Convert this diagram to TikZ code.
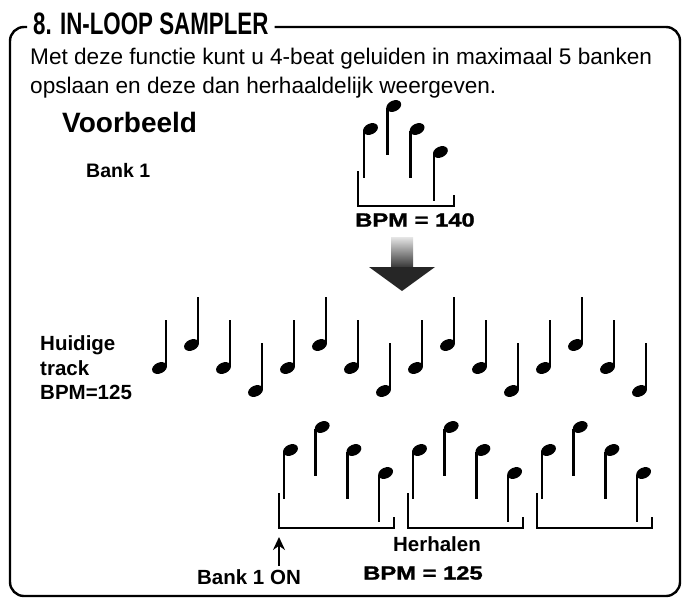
\documentclass[tikz,border=0pt]{standalone}
\usepackage{fontspec}
\setmainfont{Liberation Sans}
\newfontfamily\titlefont{Liberation Sans Bold}[FakeStretch=0.72]
\newfontfamily\heavyfont{Liberation Sans Bold}[FakeBold=1.5,FakeStretch=1.25]
\usetikzlibrary{arrows.meta}

\tikzset{
  stemline/.style={line width=2.6pt},
  bracketline/.style={line width=2pt},
  frameline/.style={line width=2.4pt, rounded corners=14pt},
  lbl/.style={font=\bfseries\fontsize{20.5}{24.5}\selectfont, inner sep=0pt},
  bpmlbl/.style={font=\heavyfont\fontsize{19}{22}\selectfont, inner sep=0pt},
  onarrow/.style={line width=2.4pt, -{Stealth[length=13pt,width=12pt]}},
}

% quarter note, head below left of the stem
\newcommand{\upnote}[2]{%
  \draw[stemline] (#1,#2) -- (#1,#2+46);
  \fill[rotate around={25:(#1-6.5,#2+48)}] (#1-6.5,#2+48) ellipse [x radius=7.8, y radius=5.4];
}
% hanging note, head above right of the stem
\newcommand{\hangnote}[2]{%
  \draw[stemline] (#1,#2-2) -- (#1,#2+45);
  \fill[rotate around={25:(#1+6.5,#2-4)}] (#1+6.5,#2-4) ellipse [x radius=7.8, y radius=5.4];
}

\begin{document}
\begin{tikzpicture}[x=1pt,y=-1pt]
  \useasboundingbox (0,0) rectangle (683,598);

  % title and frame
  \node[font=\titlefont\fontsize{31}{33}\selectfont, inner xsep=6pt, inner ysep=0pt, anchor=base west] (title) at (27,34) {8. IN-LOOP SAMPLER};
  \coordinate (topline) at (0,27);
  \draw[frameline] (title.east |- topline) -- (680,27) -- (680,596) -- (10,596) -- (10,27) -- (title.west |- topline);

  \node[font=\fontsize{22.6}{29}\selectfont, inner sep=0pt, anchor=base west, align=left] (intro) at (30,93)
    {Met deze functie kunt u 4-beat geluiden in maximaal 5 banken\\opslaan en deze dan herhaaldelijk weergeven.};

  \node[font=\bfseries\fontsize{28}{30}\selectfont, inner sep=0pt, anchor=base west] (example) at (62,132) {Voorbeeld};
  \node[lbl, font=\bfseries\fontsize{19.5}{22}\selectfont, anchor=base west] (bankone) at (86,177) {Bank 1};

  % bank 1
  \foreach \top [count=\i from 0] in {133,110,133,156}
    \hangnote{364+23.3*\i}{\top};
  \draw[bracketline] (358,171) -- (358,206) -- (454,206) -- (454,195);
  \node[bpmlbl] (bpmbank) at (415,220) {BPM = 140};

  % arrow
  \shade[top color=gray!20, bottom color=black!80] (391,237) rectangle (413,268);
  \fill[black!85] (369,267) -- (435,267) -- (402,291) -- cycle;

  % current track
  \node[lbl, anchor=west, align=left] (curtrack) at (40,368) {Huidige\\track\\BPM=125};
  \foreach \top [count=\i from 0] in {320,297,320,343,320,297,320,343,320,297,320,343,320,297,320,343}
    \upnote{166+32*\i}{\top};

  % repeated bank
  \foreach \gx in {284,413,542} {
    \foreach \top [count=\i from 0] in {454,431,454,477}
      \hangnote{\gx+31.7*\i}{\top};
    \draw[bracketline] (\gx-5,493) -- (\gx-5,528) -- (\gx+110,528) -- (\gx+110,517);
  }

  \node[lbl] (repeat) at (437,544) {Herhalen};
  \node[bpmlbl] (bpmrepeat) at (423,573) {BPM = 125};
  \node[lbl] (bankon) at (249,577) {Bank 1 ON};
  \coordinate (ontail) at (279,566);
  \coordinate (ontip) at (279,537);
  \draw[onarrow] (ontail) -- (ontip);
\end{tikzpicture}
\end{document}
